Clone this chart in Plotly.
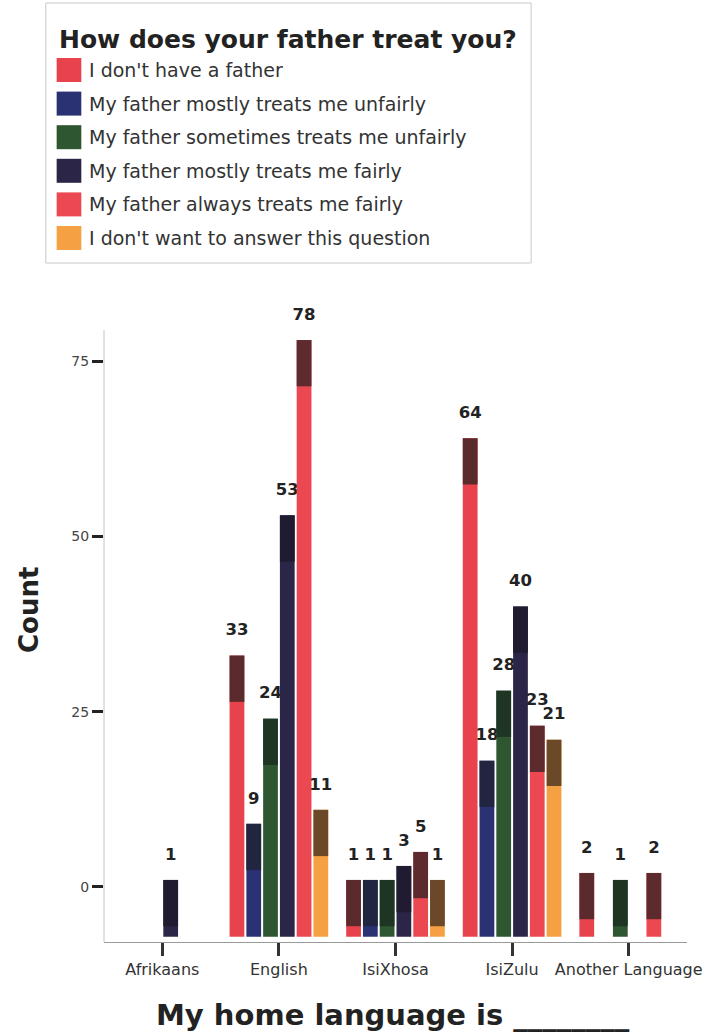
import plotly.graph_objects as go

# ---- data -------------------------------------------------------------
languages = ["Afrikaans", "English", "IsiXhosa", "IsiZulu", "Another Language"]

responses = [
    "I don't have a father",
    "My father mostly treats me unfairly",
    "My father sometimes treats me unfairly",
    "My father mostly treats me fairly",
    "My father always treats me fairly",
    "I don't want to answer this question",
]

# respondents per home language (None = nobody gave that answer)
no_father = [None, 33, 1, 64, 2]
mostly_unfair = [None, 9, 1, 18, None]
sometimes_unfair = [None, 24, 1, 28, 1]
mostly_fair = [1, 53, 3, 40, None]
always_fair = [None, 78, 5, 23, 2]
no_answer = [None, 11, 1, 21, None]

counts = [no_father, mostly_unfair, sometimes_unfair, mostly_fair, always_fair, no_answer]

count_ticks = [0, 25, 50, 75]

# ---- style ------------------------------------------------------------
FONT = "DejaVu Sans"
FACE = ["#e8434c", "#2a3273", "#2d5631", "#2b2547", "#eb4852", "#f4a043"]
SHADE = ["#5b2a2c", "#222540", "#1f3523", "#201b30", "#5d2a2d", "#6b4827"]

W, H = 714, 1035
LEFT, RIGHT, TOP, BOTTOM = 104, 695, 298, 942   # plot area in page pixels
Y_RANGE = [-7.85, 84.0]
AXIS_TOP = 330          # where the value axis line starts (page pixels)
BAR_FLOOR = -7.1        # bars are drawn up from just above the category axis
SHADE_DEPTH = 6.6       # darker cap on top of every bar
LABEL_LIFT = 1.9        # gap between a bar top and its count label


def px_x(px):
    return (px - LEFT) / (RIGHT - LEFT)


def px_y(py):
    return (BOTTOM - py) / (BOTTOM - TOP)


fig = go.Figure()

for i, series in enumerate(counts):
    cats = [lang for lang, v in zip(languages, series) if v is not None]
    vals = [v for v in series if v is not None]
    group = str(i)

    # full bar
    fig.add_trace(go.Bar(
        x=cats, y=[v - BAR_FLOOR for v in vals], base=BAR_FLOOR,
        marker=dict(color=FACE[i], line=dict(width=0)),
        offsetgroup=group, name=responses[i], showlegend=False,
        hoverinfo="skip",
    ))
    # darker cap
    cap_base = [max(BAR_FLOOR, v - SHADE_DEPTH) for v in vals]
    fig.add_trace(go.Bar(
        x=cats, y=[v - b for v, b in zip(vals, cap_base)], base=cap_base,
        marker=dict(color=SHADE[i], line=dict(width=0)),
        offsetgroup=group, showlegend=False, hoverinfo="skip",
    ))
    # count label above the bar
    fig.add_trace(go.Bar(
        x=cats, y=[LABEL_LIFT] * len(vals), base=vals,
        marker=dict(color="rgba(0,0,0,0)", line=dict(width=0)),
        text=[f"<b>{v}</b>" for v in vals], textposition="outside",
        textangle=0, constraintext="none", cliponaxis=False,
        textfont=dict(family=FONT, size=16.5, color="#222"),
        offsetgroup=group, showlegend=False, hoverinfo="skip",
    ))

fig.update_layout(
    width=W, height=H,
    margin=dict(l=LEFT, r=W - RIGHT, t=TOP, b=H - BOTTOM, pad=0),
    paper_bgcolor="white", plot_bgcolor="white",
    barmode="group", bargap=0.137, bargroupgap=0.12,
    font=dict(family=FONT, color="#333"),
    showlegend=False,
    xaxis=dict(
        categoryorder="array", categoryarray=languages,
        range=[-0.5, len(languages) - 0.5],
        showline=True, linecolor="#9a9a9a", linewidth=1,
        ticks="outside", ticklen=13, tickwidth=3, tickcolor="#333",
        tickfont=dict(family=FONT, size=16, color="#333"),
        showgrid=False, zeroline=False,
    ),
    yaxis=dict(
        range=Y_RANGE, tickvals=count_ticks,
        showline=False,
        ticks="outside", ticklen=11, tickwidth=3, tickcolor="#222",
        tickfont=dict(family=FONT, size=14, color="#444"),
        showgrid=False, zeroline=False,
    ),
)

# value axis line
fig.add_shape(
    type="line", xref="paper", yref="paper",
    x0=0, x1=0, y0=0, y1=px_y(AXIS_TOP),
    line=dict(color="#c4c4c4", width=1),
)

# axis titles
fig.add_annotation(
    text="<b>My home language is ________</b>", xref="paper", yref="paper",
    x=px_x(397), y=px_y(1015), xanchor="center", yanchor="middle",
    showarrow=False, font=dict(family=FONT, size=29, color="#222"),
)
fig.add_annotation(
    text="<b>Count</b>", xref="paper", yref="paper", textangle=-90,
    x=px_x(28), y=px_y(610), xanchor="center", yanchor="middle",
    showarrow=False, font=dict(family=FONT, size=26, color="#222"),
)

# legend panel
fig.add_shape(
    type="rect", xref="paper", yref="paper",
    x0=px_x(45), x1=px_x(537), y0=px_y(263), y1=px_y(3),
    line=dict(color="#c8c8c8", width=1), fillcolor="white", layer="below",
)
fig.add_annotation(
    text="<b>How does your father treat you?</b>", xref="paper", yref="paper",
    x=px_x(56), y=px_y(39), xanchor="left", yanchor="middle",
    showarrow=False, font=dict(family=FONT, size=25, color="#222"),
)
for i, label in enumerate(responses):
    cy = 70 + i * 33.6
    fig.add_shape(
        type="rect", xref="paper", yref="paper",
        x0=px_x(56), x1=px_x(81), y0=px_y(cy + 12), y1=px_y(cy - 12),
        line=dict(width=0), fillcolor=FACE[i],
    )
    fig.add_annotation(
        text=label, xref="paper", yref="paper",
        x=px_x(87), y=px_y(cy), xanchor="left", yanchor="middle",
        showarrow=False, font=dict(family=FONT, size=19, color="#333"),
    )

fig.write_html("out.html")
